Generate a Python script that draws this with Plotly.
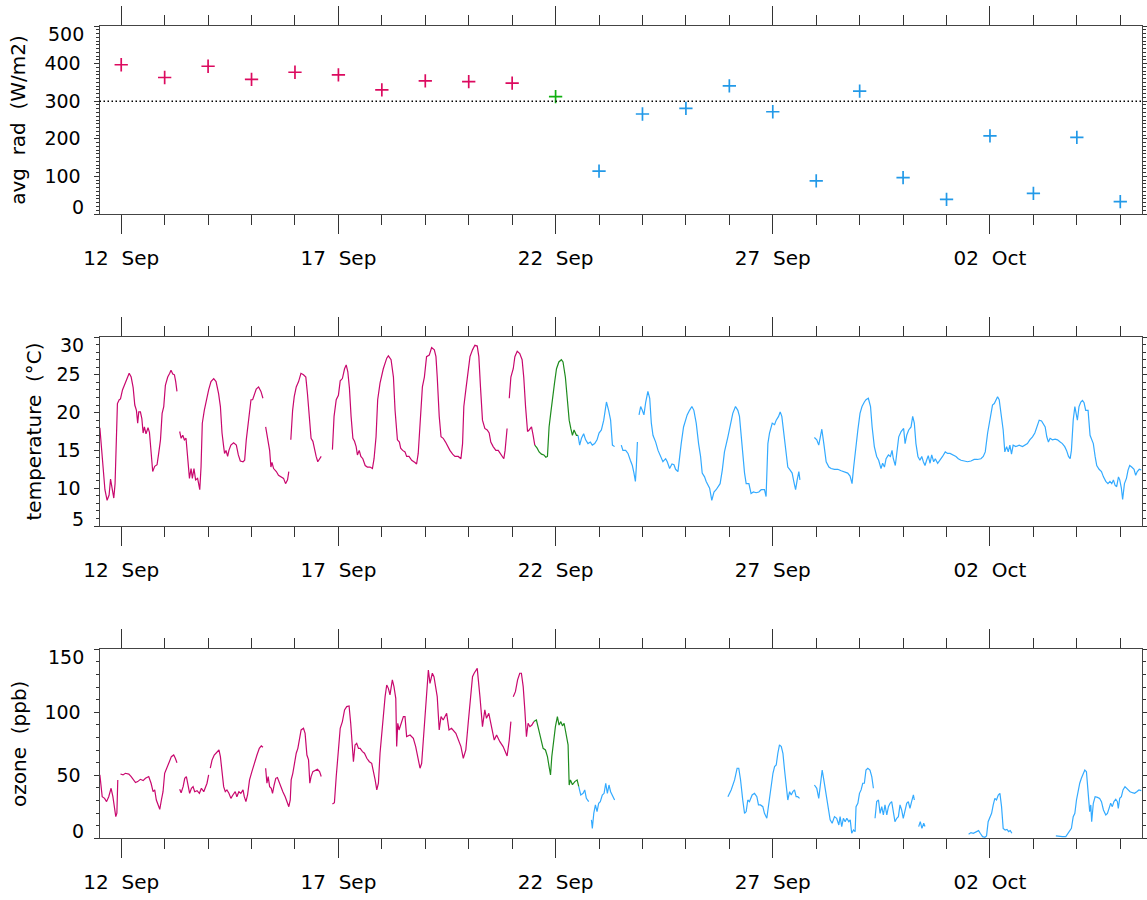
import pandas as pd
import plotly.graph_objects as go

# Time axis: hours counted from 11 Sep 12:00 (left edge of every panel)
START = pd.Timestamp("2019-09-11 12:00")
SPAN_DAYS = 24

# Daily mean radiation (W/m2), one value per day from 12 Sep to 05 Oct
rad_dates = pd.date_range("2019-09-12", "2019-10-05", freq="D")
rad_values = [397, 363, 393, 358, 377, 370, 330, 354, 352, 348, 312, 114,
              266, 281, 341, 272, 88, 327, 97, 39, 208, 55, 204, 33]
rad_threshold = 300

# Period boundaries in hours from START (21 Sep 12:00 and 22 Sep 12:00)
period_bounds = [240, 264]

# Air temperature (degC): (hour, value); None marks a data gap
temperature = [
    (0.2, 18.0), (1.1, 15.0), (2.0, 12.0), (3.0, 9.8), (4.2, 8.4), (5.3, 9.1), (6.1, 11.2),
    (7.0, 10.0), (7.9, 8.7), (8.6, 10.6), (9.4, 16.8), (9.9, 21.2), (10.9, 21.7), (11.6, 21.8),
    (12.7, 23.0), (14.0, 23.8), (15.3, 24.7), (16.4, 25.2), (17.5, 24.7), (18.6, 23.3),
    (19.5, 21.0), (20.4, 20.3), (21.1, 18.6), (21.7, 20.1), (22.6, 20.1), (23.4, 19.2),
    (24.1, 17.3), (24.8, 18.1), (25.7, 17.2), (26.8, 18.0), (27.6, 17.4), (28.3, 15.0),
    (29.4, 12.2), (30.5, 12.9), (31.8, 13.1), (32.7, 14.6), (33.7, 16.4), (34.6, 19.9),
    (35.5, 20.8), (36.4, 23.6), (37.7, 24.7), (38.8, 25.2), (39.5, 25.6), (40.5, 25.1),
    (41.4, 25.0), (42.1, 24.1), (42.8, 22.8),
    None,
    (44.3, 17.5), (45.1, 16.6), (46.0, 17.0), (46.9, 16.4), (47.8, 16.6), (48.7, 14.2),
    (49.7, 11.3), (50.6, 12.6), (51.3, 11.3), (52.2, 12.6), (53.1, 11.1), (54.2, 11.3),
    (55.4, 9.8), (56.1, 12.8), (56.8, 18.6), (57.9, 20.3), (59.0, 21.7), (60.3, 23.0),
    (61.6, 24.1), (63.1, 24.5), (64.4, 24.1), (65.8, 22.5), (66.8, 20.8), (67.7, 17.3),
    (68.6, 15.5), (69.1, 14.6), (69.9, 15.0), (70.8, 14.2), (71.5, 15.0), (72.6, 15.7),
    (74.1, 16.0), (75.6, 15.7), (76.7, 14.4), (77.8, 13.6), (79.3, 13.5), (80.2, 13.7),
    (81.1, 16.4), (81.8, 17.7), (82.8, 20.3), (83.7, 21.7), (84.6, 21.7), (85.7, 22.5),
    (86.6, 23.1), (87.9, 23.4), (89.2, 22.8), (90.3, 21.9),
    None,
    (91.8, 18.1), (92.9, 16.2), (94.0, 15.0), (94.7, 12.8), (95.3, 13.4), (96.2, 12.6),
    (97.7, 12.2), (98.9, 11.7), (100.4, 11.5), (101.7, 11.3), (102.8, 10.6), (103.9, 11.1),
    (104.6, 12.2),
    None,
    (105.7, 16.4), (106.7, 20.3), (107.6, 22.1), (108.7, 23.4), (110.0, 24.1), (111.3, 25.2),
    (112.7, 25.0), (114.0, 24.7), (114.9, 22.5), (116.0, 19.5), (116.9, 16.6), (117.9, 16.2),
    (118.8, 15.0), (119.7, 14.2), (120.6, 13.5), (121.6, 13.9), (122.5, 14.2),
    None,
    (128.7, 15.1), (129.6, 19.5), (130.8, 21.7), (132.0, 22.3), (133.0, 24.2), (134.2, 24.5),
    (135.4, 25.8), (136.3, 26.3), (137.2, 25.4), (138.1, 23.2), (139.0, 19.5), (140.0, 16.6),
    (140.9, 16.2), (141.8, 15.5), (142.5, 14.4), (143.5, 15.0), (144.4, 14.2), (145.5, 13.9),
    (146.8, 13.0), (148.0, 12.8), (149.5, 12.8), (150.8, 12.6), (151.7, 13.9), (152.8, 16.8),
    (153.7, 21.7), (155.0, 23.9), (156.8, 25.8), (158.7, 27.2), (159.6, 27.5), (161.1, 27.0),
    (162.4, 24.7), (163.3, 20.3), (164.6, 16.4), (165.7, 16.1), (166.4, 15.3), (167.5, 15.0),
    (168.8, 14.8), (169.7, 14.2), (171.0, 14.2), (172.5, 13.7), (174.3, 13.4), (175.2, 13.2),
    (176.1, 14.6), (177.1, 19.0), (178.4, 23.4), (179.5, 24.7), (180.7, 27.4), (182.2, 27.6),
    (183.5, 28.6), (185.0, 28.3), (185.9, 27.4), (186.6, 24.7), (187.7, 19.5), (188.7, 16.8),
    (189.9, 16.6), (191.2, 16.1), (192.3, 15.5), (193.6, 15.0), (195.1, 14.5), (196.4, 14.2),
    (198.2, 14.2), (199.7, 13.9), (200.6, 15.9), (201.3, 20.8), (202.4, 23.0), (203.7, 25.6),
    (204.7, 27.4), (206.1, 28.3), (207.4, 28.9), (208.7, 28.8), (209.6, 27.4), (210.5, 23.4),
    (211.6, 19.0), (212.9, 17.9), (214.2, 17.7), (215.3, 17.3), (216.2, 16.1), (217.5, 15.5),
    (219.0, 15.0), (220.3, 15.0), (221.6, 14.6), (222.7, 14.2), (223.4, 13.9), (224.1, 15.0),
    (225.2, 17.9),
    None,
    (226.4, 21.9), (227.3, 24.7), (228.6, 25.8), (229.5, 27.4), (230.8, 28.1), (232.2, 27.8),
    (233.5, 27.0), (234.4, 24.7), (235.4, 20.8), (236.5, 17.5), (237.4, 17.7), (238.7, 18.1),
    (239.6, 17.0), (240.5, 15.7), (241.8, 15.3), (242.9, 14.8), (244.2, 14.5), (245.5, 14.4),
    (246.6, 14.1), (247.5, 14.2), (248.4, 18.1), (249.3, 19.9), (250.3, 22.1), (251.4, 23.9),
    (252.5, 25.8), (253.8, 26.7), (255.2, 27.0), (256.1, 26.7), (257.4, 24.7), (258.3, 21.7),
    (259.5, 19.0), (260.4, 17.9), (261.3, 17.0), (262.2, 17.7), (263.5, 17.0), (264.4, 17.0),
    (265.3, 15.7), (266.3, 16.6), (267.5, 17.2), (268.6, 16.4), (269.9, 15.9), (271.2, 16.1),
    (272.3, 15.7), (273.6, 15.9), (274.9, 16.4), (276.0, 17.3), (277.3, 17.7), (278.6, 19.0),
    (280.1, 21.4), (281.3, 20.3), (282.4, 19.0), (283.4, 15.7), (284.6, 15.5),
    None,
    (288.3, 15.7), (289.2, 15.0), (290.7, 15.0), (292.0, 14.6), (293.3, 13.7), (294.4, 13.0),
    (295.3, 12.0), (296.1, 10.9), (296.6, 12.8), (297.2, 16.1),
    None,
    (298.1, 19.7), (299.0, 20.8), (299.9, 20.3), (300.8, 19.7), (301.8, 21.4), (303.0, 22.8),
    (304.0, 21.9), (304.9, 18.6), (305.8, 17.0), (307.3, 16.1), (308.6, 15.0), (310.0, 14.2),
    (311.3, 13.5), (312.8, 13.9), (313.7, 13.5), (315.0, 12.6), (316.3, 13.2), (317.4, 13.1),
    (318.3, 12.5), (319.6, 12.2), (320.5, 14.2), (321.4, 15.9), (322.7, 18.1), (323.8, 19.2),
    (324.7, 19.7), (326.0, 20.3), (327.3, 20.8), (328.4, 20.3), (329.7, 18.6), (331.0, 15.9),
    (332.1, 14.2), (333.0, 12.0), (334.3, 11.5), (335.2, 10.9), (336.1, 10.4), (337.1, 10.0),
    (338.3, 8.4), (339.5, 9.5), (340.7, 9.8), (342.0, 10.2), (342.9, 10.6), (344.1, 12.4),
    (345.3, 14.8), (347.2, 16.8), (348.6, 18.6), (349.9, 19.9), (351.4, 20.8), (352.7, 20.3),
    (353.6, 19.5), (354.9, 15.9), (356.4, 12.0), (357.3, 10.6), (358.8, 10.6), (360.0, 9.3),
    (361.3, 9.5), (362.8, 9.4), (364.3, 9.5), (365.6, 9.8), (367.4, 9.8), (368.3, 8.9),
    (369.3, 15.9), (370.2, 17.3), (371.7, 18.6), (373.0, 18.4), (373.9, 19.0), (375.2, 19.5),
    (376.1, 20.1), (377.0, 19.5), (377.9, 17.7), (379.0, 15.0), (380.3, 12.8), (381.6, 12.4),
    (382.7, 12.0), (383.6, 10.9), (384.6, 9.8), (385.5, 11.1), (386.4, 12.2), (387.0, 11.1),
    None,
    (395.0, 16.7), (396.3, 16.4), (397.4, 15.7), (398.4, 16.8), (399.1, 17.8), (400.2, 15.9),
    (401.5, 13.5), (403.0, 12.8), (404.2, 12.6), (406.1, 12.5), (407.9, 12.5), (409.8, 12.3),
    (411.6, 12.2), (413.4, 12.0), (414.7, 11.6), (415.8, 10.6), (416.7, 12.8), (418.0, 16.1),
    (419.0, 17.7), (420.2, 19.9), (421.3, 20.8), (422.6, 21.4), (423.5, 21.7), (424.8, 21.9),
    (426.0, 20.8), (426.9, 18.1), (428.1, 15.5), (429.4, 14.2), (430.5, 13.7), (431.8, 12.6),
    (432.7, 13.3), (433.7, 12.8), (434.6, 13.9), (435.9, 14.4), (437.0, 14.2), (437.9, 15.0),
    (438.6, 13.9), (439.7, 13.0), (440.7, 15.0), (441.6, 16.8), (442.9, 17.5), (443.8, 17.7),
    (444.3, 17.9), (445.1, 15.9), (446.0, 17.0), (447.1, 17.7), (448.4, 18.1), (449.3, 19.5),
    (450.2, 18.6), (451.1, 15.9), (452.2, 14.2), (453.3, 13.7), (454.3, 14.2), (455.2, 13.5),
    (456.1, 13.0), (457.0, 13.7), (457.9, 14.3), (458.9, 13.3), (459.8, 14.4), (460.9, 13.5),
    (461.8, 13.9), (463.1, 13.3), (464.4, 13.7), (465.8, 14.2), (467.3, 14.8), (468.6, 14.6),
    (469.9, 14.6), (471.4, 14.4), (473.2, 14.2), (474.5, 13.9), (476.0, 13.7), (477.8, 13.6),
    (479.6, 13.5), (481.5, 13.6), (483.3, 13.8), (485.1, 13.8), (487.0, 13.9), (488.3, 14.2),
    (489.4, 14.8), (490.7, 17.3), (491.6, 18.4), (492.5, 19.5), (493.4, 21.0), (494.4, 21.2),
    (495.3, 21.7), (496.2, 22.1), (497.1, 21.7), (498.0, 20.3), (499.3, 17.7), (500.2, 14.8),
    (501.2, 15.5), (502.1, 14.8), (503.0, 15.7), (503.9, 14.5), (504.8, 15.7), (506.3, 15.5),
    (508.1, 15.7), (510.0, 15.5), (511.5, 15.7), (512.7, 15.9), (514.0, 16.4), (515.5, 16.8),
    (516.8, 17.3), (517.9, 18.1), (519.2, 19.0), (520.5, 18.9), (521.4, 18.6), (522.5, 18.1),
    (523.4, 16.8), (524.3, 16.1), (525.2, 16.6), (526.5, 16.4), (528.0, 16.5), (529.3, 16.4),
    (530.8, 16.1), (532.0, 15.9), (533.3, 15.5), (534.3, 15.0), (535.4, 14.2), (536.3, 13.9),
    (537.0, 15.0), (538.0, 19.0), (538.9, 20.8), (539.8, 19.9), (540.3, 19.0), (541.2, 20.8),
    (542.2, 21.4), (543.1, 21.6), (544.0, 21.3), (544.9, 20.3), (546.2, 20.3), (547.3, 17.0),
    (548.2, 16.4), (549.1, 15.9), (550.1, 14.2), (551.0, 13.0), (552.3, 12.5), (553.6, 12.2),
    (554.7, 11.5), (556.0, 10.9), (557.2, 10.6), (558.3, 10.9), (559.3, 10.6), (560.2, 11.1),
    (561.1, 10.4), (562.0, 10.2), (563.0, 11.5), (563.7, 11.1), (564.6, 10.0), (565.3, 8.5),
    (566.3, 10.6), (567.4, 11.3), (568.3, 12.4), (569.2, 13.0), (570.3, 12.8), (571.6, 12.5),
    (572.5, 11.7), (573.4, 12.2), (574.5, 12.5), (575.6, 12.4),
]

# Ozone mixing ratio (ppb): (hour, value); None marks a data gap
ozone = [
    (0.2, 50.3), (0.9, 41.0), (1.5, 33.0), (2.8, 31.7), (3.9, 29.1), (5.1, 33.0), (6.4, 39.7),
    (7.4, 33.0), (8.3, 22.5), (9.0, 17.2), (9.6, 20.0), (10.1, 46.3),
    None,
    (11.6, 51.0), (13.0, 50.3), (14.3, 51.6), (16.2, 51.0), (17.5, 49.0), (18.6, 46.3),
    (19.9, 44.2), (21.1, 45.0), (22.6, 46.8), (24.1, 45.8), (25.4, 47.6), (27.2, 49.0),
    (28.5, 43.7), (29.6, 37.0), (30.5, 38.4), (31.4, 30.4), (32.4, 26.5), (33.3, 23.0),
    (34.2, 30.4), (35.1, 37.0), (36.0, 51.6), (37.3, 56.9), (38.6, 60.8), (39.7, 64.8),
    (41.0, 66.1), (41.9, 63.5), (42.8, 60.0),
    None,
    (44.3, 38.9), (45.1, 36.2), (46.2, 41.0), (47.1, 47.6), (48.0, 49.0), (48.9, 41.0),
    (49.8, 35.7), (50.8, 39.7), (51.7, 41.0), (52.6, 37.0), (53.9, 37.8), (55.2, 35.7),
    (56.3, 39.7), (57.6, 37.0), (58.5, 41.0), (59.4, 43.7), (60.3, 50.3),
    None,
    (61.2, 55.6), (62.2, 62.2), (63.4, 66.1), (64.9, 68.8), (66.0, 70.1), (66.8, 64.8),
    (67.7, 54.2), (68.6, 41.0), (69.5, 37.0), (70.4, 38.4), (71.5, 35.7), (72.6, 31.7),
    (73.7, 34.4), (75.0, 37.0), (75.9, 33.0), (77.0, 37.0), (78.1, 35.7), (79.3, 38.4),
    (80.0, 33.0), (80.9, 29.1), (81.8, 34.4), (82.9, 46.3), (84.2, 52.9), (85.5, 59.5),
    (87.0, 66.1), (88.3, 71.4), (89.4, 73.3), (90.3, 72.2),
    None,
    (91.8, 55.6), (92.5, 43.7), (93.2, 49.0), (94.0, 41.0), (94.9, 39.7), (95.6, 35.7),
    (96.5, 42.3), (97.4, 47.6), (98.3, 48.2), (99.4, 43.7), (100.4, 41.0), (101.3, 37.0),
    (102.6, 33.0), (103.5, 29.1), (104.6, 25.1), (105.4, 30.4), (105.9, 46.3), (106.8, 51.6),
    (107.7, 60.8), (108.7, 67.5), (109.6, 71.4), (110.5, 80.7), (111.4, 86.0), (112.7, 87.3),
    (113.6, 83.3), (114.6, 66.1), (115.5, 62.2), (116.2, 43.7), (116.9, 49.0), (117.9, 52.9),
    (119.2, 54.2), (120.4, 54.8), (121.6, 52.9), (122.5, 49.0),
    None,
    (128.7, 27.2), (129.8, 28.3), (130.8, 49.0), (131.7, 62.2), (133.0, 87.3), (134.2, 92.6),
    (135.4, 101.9), (136.6, 104.5), (137.9, 105.0), (138.8, 91.3), (139.8, 67.5), (140.3, 60.8),
    (141.2, 74.1), (142.1, 75.4), (143.1, 71.4), (144.0, 71.4), (145.3, 68.8), (146.4, 67.5),
    (147.7, 63.5), (149.1, 60.8), (150.4, 59.5), (151.3, 54.2), (152.3, 46.3), (153.2, 38.4),
    (154.1, 43.7), (155.0, 67.5), (155.9, 83.3), (156.8, 95.2), (157.8, 112.4), (158.7, 121.7),
    (159.6, 119.0), (160.5, 113.8), (161.8, 125.7), (162.7, 120.4), (163.7, 111.1), (164.2, 72.8),
    (164.8, 91.3), (165.5, 86.0), (166.0, 88.6), (167.9, 96.6), (168.8, 96.6), (169.7, 80.7),
    (171.6, 82.0), (173.4, 79.4), (174.7, 72.8), (176.1, 62.2), (177.1, 55.6), (178.0, 59.5),
    (179.3, 83.3), (180.4, 109.8), (181.7, 133.6), (182.6, 123.0), (183.9, 131.0), (184.8, 128.3),
    (186.6, 112.4), (187.7, 86.0), (188.7, 96.6), (189.9, 93.9), (191.8, 99.2), (193.1, 86.0),
    (194.5, 87.3), (196.9, 83.3), (198.2, 78.0), (199.7, 72.8), (201.0, 63.5), (202.4, 70.1),
    (203.7, 91.3), (205.0, 112.4), (206.1, 128.3), (207.0, 131.0), (208.7, 134.9), (210.2, 112.4),
    (211.6, 88.6), (212.9, 101.9), (213.8, 95.2), (215.1, 99.2), (216.6, 88.6), (218.1, 78.0),
    (219.4, 82.0), (221.2, 76.7), (223.0, 72.8), (225.2, 65.3), (226.4, 78.0), (227.3, 92.6),
    None,
    (228.6, 112.4), (229.8, 116.4), (231.0, 125.7), (232.2, 131.0), (233.1, 131.0),
    (234.1, 120.4), (235.0, 101.9), (235.9, 80.7), (236.8, 91.3), (237.8, 88.6), (238.9, 89.9),
    (240.0, 92.6), (241.4, 93.9), (242.7, 86.0), (243.8, 79.4), (245.1, 71.4), (246.4, 70.1),
    (247.5, 64.8), (248.4, 56.9), (249.2, 50.3), (249.9, 64.8), (251.0, 78.0), (251.9, 88.6),
    (253.0, 96.6), (253.9, 89.9), (254.9, 92.6), (255.8, 89.2), (256.7, 91.3), (258.0, 82.0),
    (258.9, 74.1), (259.5, 42.3), (260.2, 46.3), (261.3, 42.5), (262.6, 45.0), (263.9, 46.3),
    (264.8, 41.0), (265.9, 34.4), (267.2, 35.7), (268.1, 38.4), (269.0, 31.7), (270.3, 29.1),
    None,
    (271.8, 14.6), (272.3, 7.9), (273.1, 19.8), (274.0, 26.5), (274.9, 21.2), (275.8, 27.8),
    (276.7, 29.1), (277.8, 34.4), (278.8, 35.7), (279.7, 43.7), (280.6, 35.7), (281.5, 42.3),
    (282.4, 37.0), (283.7, 33.0), (284.6, 30.4),
    None,
    (347.2, 33.0), (349.0, 38.4), (350.9, 46.3), (352.3, 55.6), (353.2, 55.6), (354.2, 46.3),
    (355.4, 30.4), (356.4, 19.8), (357.3, 21.2), (358.2, 30.4), (359.1, 29.1), (360.6, 34.4),
    (361.9, 35.7), (363.2, 33.0), (364.1, 26.5), (365.2, 26.5), (366.5, 25.1), (367.4, 19.8),
    (368.7, 15.9), (369.8, 27.8), (370.8, 41.0), (372.1, 51.6), (373.0, 56.9), (373.9, 58.2),
    (374.8, 67.5), (375.7, 74.1), (376.7, 72.8), (377.6, 67.5), (378.5, 54.2), (379.4, 41.0),
    (380.3, 30.4), (381.3, 37.0), (382.2, 34.4), (383.1, 37.0), (384.0, 38.4), (384.9, 33.0),
    (385.8, 33.0), (386.8, 31.7),
    None,
    (395.0, 42.3), (396.3, 39.7), (397.4, 31.7), (398.4, 46.3), (399.3, 54.2), (400.2, 46.3),
    (401.1, 38.4), (402.4, 25.1), (403.7, 14.6), (404.8, 11.9), (406.1, 17.2), (407.3, 15.9),
    (408.5, 10.6), (409.2, 17.2), (410.1, 9.3), (411.0, 15.9), (412.0, 13.2), (412.9, 15.9),
    (414.0, 13.2), (414.8, 14.6), (415.6, 4.0), (416.6, 6.6), (417.5, 5.3), (418.0, 25.1),
    (419.0, 27.8), (419.9, 35.7), (420.8, 38.4), (421.7, 43.7), (422.6, 43.7), (423.5, 54.2),
    (424.5, 55.6), (425.7, 54.2), (426.7, 49.0), (427.6, 39.7),
    None,
    (428.5, 15.9), (429.4, 29.1), (430.4, 30.4), (431.3, 19.8), (432.2, 25.1), (433.1, 18.5),
    (434.0, 26.5), (435.0, 18.5), (435.9, 25.1), (436.8, 27.8), (437.7, 29.1), (438.6, 22.5),
    (439.5, 13.2), (440.5, 15.9), (441.4, 17.2), (442.3, 26.5), (443.2, 22.5), (444.1, 15.9),
    (445.1, 21.2), (446.0, 27.8), (446.9, 29.1), (447.8, 23.8), (448.7, 29.1), (449.7, 34.4),
    (450.2, 30.4),
    None,
    (452.6, 9.3), (453.5, 13.2), (454.4, 7.9), (455.4, 11.9), (456.1, 9.3),
    None,
    (480.2, 3.2), (481.5, 4.5), (482.8, 4.0), (484.2, 5.3), (485.7, 6.1), (486.6, 4.0),
    (487.9, 1.3), (489.2, 0.8), (490.1, 1.9), (491.0, 13.2), (492.0, 17.2), (492.9, 19.8),
    (493.8, 26.5), (494.7, 31.7), (495.6, 30.4), (496.6, 34.4), (497.5, 35.7), (498.4, 25.1),
    (499.3, 7.9), (500.4, 6.6), (501.4, 7.1), (502.3, 5.3), (503.2, 6.1), (504.1, 4.0),
    None,
    (528.4, 1.9), (530.2, 1.3), (532.0, 1.3), (533.9, 1.3), (535.2, 4.0), (536.1, 5.3),
    (537.0, 7.9), (538.0, 17.2), (538.9, 19.8), (539.8, 30.4), (540.7, 38.4), (541.6, 43.7),
    (542.5, 47.6), (543.5, 51.6), (544.4, 54.2), (545.3, 52.9), (546.2, 35.7), (547.1, 21.2),
    (547.7, 26.5), (548.2, 13.2), (549.1, 27.8), (550.1, 33.0), (551.4, 32.5), (552.6, 31.7),
    (553.6, 29.1), (554.7, 22.5), (556.0, 18.5), (556.9, 19.8), (557.8, 23.8), (558.7, 27.8),
    (559.6, 25.1), (560.5, 29.1), (561.5, 31.0), (562.4, 29.1), (562.9, 23.8), (563.7, 31.7),
    (564.6, 33.0), (565.5, 38.4), (566.6, 41.0), (567.5, 39.7), (568.4, 38.4), (569.4, 37.0),
    (570.7, 36.2), (571.9, 35.7), (573.1, 37.0), (574.3, 38.4), (575.6, 37.8),
]

# Colours of the three periods: before, during and after the transition day
line_colors = ["#C8086E", "#1E8C1E", "#33AAFF"]
marker_colors = ["#DC0A5F", "#10B010", "#2299E8"]

FONT = "DejaVu Sans"
NBSP = "\u00a0"

X_DOMAIN = [99.5 / 1147, 1142 / 1147]
Y_DOMAINS = {
    "y": [1 - 214 / 900, 1 - 26 / 900],
    "y2": [1 - 526 / 900, 1 - 337 / 900],
    "y3": [1 - 838.3 / 900, 1 - 649.3 / 900],
}
LABEL_GAP = 9


def period_of(hours):
    if hours < period_bounds[0]:
        return 0
    if hours < period_bounds[1]:
        return 1
    return 2


def stamp(hours):
    return (START + pd.Timedelta(hours=hours)).strftime("%Y-%m-%d %H:%M:%S")


def split_by_period(series):
    """Split a gapped series into one x/y pair per period, keeping lines joined."""
    xs = [[], [], []]
    ys = [[], [], []]
    prev = None
    for item in series:
        if item is None:
            for k in range(3):
                xs[k].append(None)
                ys[k].append(None)
            prev = None
            continue
        h, v = item
        p = period_of(h)
        t = stamp(h)
        if prev is not None and prev != p:
            xs[prev] += [t, None]
            ys[prev] += [v, None]
        xs[p].append(t)
        ys[p].append(v)
        prev = p
    return xs, ys


fig = go.Figure()

# Panel 1: daily mean radiation markers
rad_hours = [(d - START) / pd.Timedelta(hours=1) for d in rad_dates]
for p in range(3):
    idx = [i for i, h in enumerate(rad_hours) if period_of(h) == p]
    fig.add_trace(go.Scatter(
        x=[rad_dates[i] for i in idx], y=[rad_values[i] for i in idx],
        mode="markers", xaxis="x", yaxis="y",
        marker=dict(symbol="cross-thin", size=9.5, color=marker_colors[p],
                    line=dict(width=1.7, color=marker_colors[p])),
        hoverinfo="x+y",
    ))

# Panels 2 and 3: time series
for series, xa, ya in [(temperature, "x2", "y2"), (ozone, "x3", "y3")]:
    xs, ys = split_by_period(series)
    for p in range(3):
        fig.add_trace(go.Scatter(
            x=xs[p], y=ys[p], mode="lines", xaxis=xa, yaxis=ya,
            line=dict(color=line_colors[p], width=1.2),
            connectgaps=False, hoverinfo="x+y",
        ))

x_range = [stamp(0), stamp(SPAN_DAYS * 24)]
DAY_MS = 86400000


def x_axis(anchor):
    return dict(
        type="date", range=x_range, domain=X_DOMAIN, anchor=anchor, automargin=False,
        tick0="2019-09-12", dtick=5 * DAY_MS, tickformat="%d" + NBSP + NBSP + "%b",
        ticks="outside", ticklen=19, tickwidth=1, tickcolor="#333",
        minor=dict(ticks="outside", dtick=DAY_MS, ticklen=10, tickwidth=1, tickcolor="#333"),
        showline=True, linecolor="#444", linewidth=1, mirror="ticks",
        showgrid=False, zeroline=False, ticklabelstandoff=7,
        tickfont=dict(family=FONT, size=20, color="black"),
    )


def y_axis(name, rng, major, minor, title, standoff):
    vals = list(range(rng[0], rng[1] + 1, major))
    text = [str(v) for v in vals]
    text[0] = ""
    text[-1] = ""
    return dict(
        range=rng, domain=Y_DOMAINS[name], anchor="x" + name[1:], automargin=False,
        tickmode="array", tickvals=vals, ticktext=text,
        ticks="outside", ticklen=5, tickwidth=1, tickcolor="#333",
        minor=dict(ticks="outside", tickmode="linear", tick0=rng[0], dtick=minor,
                   ticklen=3, tickwidth=1, tickcolor="#333"),
        showline=True, linecolor="#444", linewidth=1, mirror="ticks",
        showgrid=False, zeroline=False, ticklabelstandoff=LABEL_GAP,
        tickfont=dict(family=FONT, size=19, color="black"),
        title=dict(text=title, standoff=standoff,
                   font=dict(family=FONT, size=20, color="black")),
    )


fig.update_layout(
    width=1147, height=900,
    margin=dict(l=0, r=0, t=0, b=0),
    paper_bgcolor="white", plot_bgcolor="white",
    showlegend=False,
    xaxis=x_axis("y"), xaxis2=x_axis("y2"), xaxis3=x_axis("y3"),
    yaxis=y_axis("y", [0, 500], 100, 10,
                 "avg" + NBSP * 2 + "rad" + NBSP * 2 + "(W/m2)", 13),
    yaxis2=y_axis("y2", [5, 30], 5, 1,
                  "temperature" + NBSP * 2 + "(°C)", 9),
    yaxis3=y_axis("y3", [0, 150], 50, 10,
                  "ozone" + NBSP * 2 + "(ppb)", 12),
)

# Reference level on the radiation panel
fig.add_shape(type="line", xref="x domain", yref="y", x0=0, x1=1,
              y0=rad_threshold, y1=rad_threshold,
              line=dict(color="black", width=1.4, dash="1.5px,2.5px"))

# End labels of each value axis sit just inside the frame
for yref, rng in [("y", [0, 500]), ("y2", [5, 30]), ("y3", [0, 150])]:
    for val, shift in [(rng[0], 7), (rng[1], -8)]:
        fig.add_annotation(
            xref="paper", x=X_DOMAIN[0], xanchor="right", xshift=-(5 + LABEL_GAP),
            yref=yref, y=val, yanchor="middle", yshift=shift,
            text=str(val), showarrow=False,
            font=dict(family=FONT, size=19, color="black"),
        )

fig.write_html("out.html")
